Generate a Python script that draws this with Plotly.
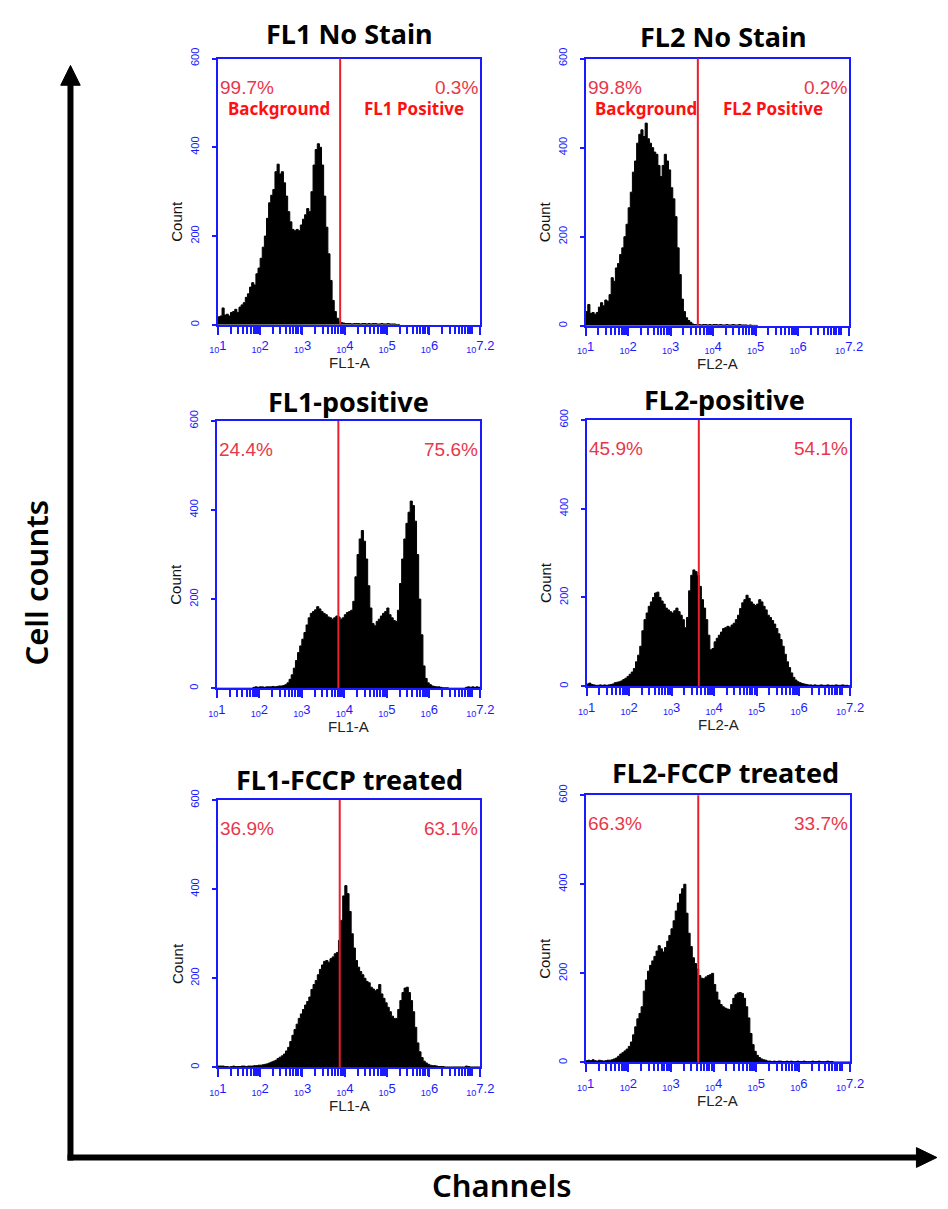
import numpy as np
import plotly.graph_objects as go

W, H = 948, 1209

# ---------------- data ----------------
bin_start_log = 1.0      # log10 of first bin edge
bin_width_log = 0.05     # bin width in decades

fl1_no_stain = [18, 20, 38, 22, 24, 20, 28, 30,
                35, 28, 40, 45, 50, 62,
                70, 85, 95, 90, 115, 128,
                150, 175, 200, 240, 275,
                292, 305, 345, 362, 340,
                345, 320, 290, 255, 232,
                215, 212, 215, 212, 225,
                238, 248, 262, 255, 300,
                360, 395, 408, 400, 360,
                290, 220, 160, 100, 55,
                30, 15, 8, 5, 4,
                3, 3, 3, 2, 3, 3, 3, 2, 3, 3, 2, 3, 2, 3, 3, 2, 2, 3, 2, 2, 3, 2, 2, 2, 1, 1]

fl2_no_stain = [32, 48, 28, 30, 26, 30, 42,
                52, 45, 58, 55, 70, 108, 100,
                130, 140, 160, 175, 200, 228,
                265, 300, 345, 370, 410,
                430, 440, 425, 455, 420,
                410, 400, 390, 385, 360,
                335, 360, 385, 370, 350,
                310, 285, 245, 175, 115, 60, 32, 18, 12, 8,
                4, 3, 3, 3, 2, 3, 3, 2, 3, 2, 3, 3, 2, 3, 2, 2, 3, 2, 2, 3, 2, 2, 3, 2, 2, 2, 1, 2, 1, 1, 1]

fl1_positive = [0, 0, 0, 0, 0, 0, 0, 0, 0, 0, 0, 0, 0, 0, 0, 0, 0,
                2, 3, 2, 3, 3, 2, 3, 3, 3, 4, 3, 4, 5, 5, 6, 8,
                12, 20, 30,
                45, 62, 80, 95,
                110, 125, 142, 158, 168,
                172, 176, 183, 178, 172,
                168, 165, 160, 158, 155,
                158, 162, 160, 155, 158,
                165, 170, 172, 175, 195, 250, 300, 335, 354, 330, 290, 230, 180, 145, 140,
                150, 155, 162, 168, 172, 180, 165, 158, 152, 150,
                175, 235, 290, 335, 370, 395, 420, 410, 375, 300, 200, 120, 50, 22, 12,
                8, 5, 4, 3, 3,
                2, 1, 1, 1, 0, 0, 0, 0, 0, 0, 0, 0, 2, 3, 2, 3, 2, 3, 2]

fl2_positive = [5, 7, 4, 3,
                2, 2, 3, 2, 3, 2, 3, 4, 5,
                8, 9, 10, 12, 15, 18, 22,
                27, 32, 40, 55, 70, 90, 125, 150, 165, 180, 190, 200, 210, 212, 200,
                192, 185, 176, 172, 168, 165, 170, 176, 168, 160, 150, 132, 155, 215, 250,
                262, 258, 250, 225, 195, 176, 150, 115, 82, 85,
                100, 108, 115, 122, 130,
                132, 135, 133, 138, 142,
                150, 160, 175, 188, 195,
                205, 198, 190, 185, 182,
                185, 195, 190, 180, 172,
                160, 155, 148, 140, 130,
                118, 105, 90, 72, 55,
                42, 30, 20, 14, 10,
                8, 6, 5, 4, 3,
                3, 2, 3, 2, 2, 3, 2, 2, 3, 2, 2, 2, 3, 2, 2, 3, 2, 2, 1]

fl1_fccp = [3, 3, 3, 2, 2, 1, 2, 3, 2, 2, 2, 3, 3, 2, 3, 3, 3,
            4, 4, 5, 5, 6, 7, 8,
            10, 12, 14, 16, 20, 23, 26, 30,
            37, 45, 58, 72, 85, 97, 110, 120,
            130, 140, 148, 158, 175, 186, 195, 208, 220, 230,
            238, 240, 236, 244, 248,
            255, 258, 285, 330, 385,
            408, 390, 350, 300, 268, 240, 225, 215, 208, 200,
            193, 190, 180, 176, 172, 175, 186, 165, 155, 145,
            135, 125, 115, 110, 110, 130, 150, 168, 178, 180,
            168, 150, 125, 90, 55, 35, 22, 14, 10, 7,
            5, 4, 4, 3, 2,
            2, 2, 1, 1, 1, 1, 1, 1, 1, 1, 1, 1, 3, 2, 1, 1, 1, 1, 1]

fl2_fccp = [4, 5, 4, 6, 4, 3, 5, 4, 3, 4, 5, 5, 6,
            8, 10, 14, 19, 22, 26, 30,
            36, 46, 62, 80, 98, 110, 125, 160, 185, 205,
            218, 228, 238, 250, 262, 255, 248, 258, 272, 285,
            300, 318, 340, 358, 378, 390, 400, 335, 290, 260,
            235, 222, 210, 195, 189, 188, 192, 195, 197, 200,
            175, 158, 140, 130, 125, 122, 120, 119, 130, 144,
            152, 156, 157, 155, 144, 125, 100, 65, 40, 25,
            16, 11, 8, 6, 5,
            3, 3, 2, 3, 2, 3, 3, 2, 2, 3, 2, 3, 2, 2, 3, 2, 2, 3, 2, 2,
            2, 3, 2, 2, 3, 2, 2, 2, 3, 2, 2, 1, 1, 1, 1, 1, 1, 1, 1]

panel_counts = [fl1_no_stain, fl2_no_stain, fl1_positive, fl2_positive, fl1_fccp, fl2_fccp]
panel_titles = ["FL1 No Stain", "FL2 No Stain", "FL1-positive", "FL2-positive",
                "FL1-FCCP treated", "FL2-FCCP treated"]
channel_labels = ["FL1-A", "FL2-A", "FL1-A", "FL2-A", "FL1-A", "FL2-A"]
gate_log = [3.89, 3.64, 3.86, 3.64, 3.88, 3.64]
left_pct = ["99.7%", "99.8%", "24.4%", "45.9%", "36.9%", "66.3%"]
right_pct = ["0.3%", "0.2%", "75.6%", "54.1%", "63.1%", "33.7%"]
gate_names = [("Background", "FL1 Positive"), ("Background", "FL2 Positive"),
              None, None, None, None]
x_tick_exponents = [1, 2, 3, 4, 5, 6, 7.2]
x_tick_labels = ["1", "2", "3", "4", "5", "6", "7.2"]
y_ticks = [0, 200, 400, 600]
y_tick_labels = ["0", "200", "400", "600"]

# ---------------- layout geometry (pixels) ----------------
boxes = [(214, 483, 48, 317), (591, 861, 48, 318),
         (213, 483, 414, 684), (592, 862, 413, 682),
         (214, 483, 797, 1067), (591, 862, 792, 1062)]
title_pos = [(349, 23), (732, 26), (348, 394), (733, 392), (349, 776), (734, 769)]
name_xfrac = [(0.033, 0.55), (0.026, 0.515)]

BLUE = "#1a1aff"
RED_PCT = "#e8374a"
RED = "#ff1010"
GATE = "#e8202e"


def px(x):
    return x / W


def py(y):
    return 1 - y / H


fig = go.Figure()
annotations = []
shapes = []

minor_vals = []
for n in range(1, 7):
    for k in range(2, 10):
        minor_vals.append(k * 10 ** n)
minor_vals.append(10 ** 7)

for i, counts in enumerate(panel_counts):
    sfx = "" if i == 0 else str(i + 1)
    xs = [10 ** (bin_start_log + bin_width_log * j) for j in range(len(counts) + 1)]
    ys = list(counts) + [counts[-1]]
    fig.add_trace(go.Scatter(
        x=xs, y=ys, mode="lines", line=dict(color="black", width=1, shape="hv"),
        fill="tozeroy", fillcolor="black", xaxis="x" + sfx, yaxis="y" + sfx,
        hoverinfo="skip", showlegend=False))

    l, r, t, b = boxes[i]
    fig.layout["xaxis" + sfx] = dict(
        domain=[px(l), px(r)], anchor="y" + sfx, type="log", range=[1, 7.2],
        tickmode="array", tickvals=[10 ** e for e in x_tick_exponents],
        ticktext=["<sub>10</sub>" + s for s in x_tick_labels],
        ticks="outside", ticklen=8, tickwidth=1.5, tickcolor=BLUE,
        tickfont=dict(family="Liberation Sans", size=13, color=BLUE),
        minor=dict(tickmode="array", tickvals=minor_vals, ticks="outside",
                   ticklen=7, tickwidth=1.5, tickcolor=BLUE, showgrid=False),
        showline=True, linecolor=BLUE, linewidth=2, mirror=True,
        showgrid=False, zeroline=False, fixedrange=True)
    fig.layout["yaxis" + sfx] = dict(
        domain=[py(b), py(t)], anchor="x" + sfx, range=[0, 600],
        tickmode="array", tickvals=y_ticks, ticktext=y_tick_labels,
        tickangle=-90, ticks="outside", ticklen=4, tickwidth=1.5, tickcolor=BLUE,
        ticklabelstandoff=8,
        tickfont=dict(family="Liberation Sans", size=11, color=BLUE),
        showline=True, linecolor=BLUE, linewidth=2, mirror=True,
        showgrid=False, zeroline=False, fixedrange=True)

    xd = "x" + sfx + " domain"
    yd = "y" + sfx + " domain"
    shapes.append(dict(type="line", xref="x" + sfx, yref=yd,
                       x0=10 ** gate_log[i], x1=10 ** gate_log[i], y0=0, y1=1,
                       line=dict(color=GATE, width=2)))
    annotations.append(dict(text=left_pct[i], xref=xd, yref=yd, x=0.0, y=0.893,
                            xanchor="left", yanchor="middle", showarrow=False, xshift=0,
                            font=dict(family="Liberation Sans", size=19, color=RED_PCT)))
    annotations.append(dict(text=right_pct[i], xref=xd, yref=yd, x=1.0, y=0.893,
                            xanchor="right", yanchor="middle", showarrow=False,
                            font=dict(family="Liberation Sans", size=19, color=RED_PCT)))
    if gate_names[i]:
        for name, xf in zip(gate_names[i], name_xfrac[i]):
            annotations.append(dict(text="<b>" + name + "</b>", xref=xd, yref=yd,
                                    x=xf, y=0.812, xanchor="left", yanchor="middle",
                                    showarrow=False,
                                    font=dict(family="Noto Sans", size=17, color=RED)))
    annotations.append(dict(text=channel_labels[i], xref=xd, yref=yd, x=0.5, y=0,
                            yshift=-38, xanchor="center", yanchor="middle", showarrow=False,
                            font=dict(family="Liberation Sans", size=15, color="#222222")))
    annotations.append(dict(text="Count", xref=xd, yref=yd, x=0, y=0.39, xshift=-41,
                            textangle=-90, xanchor="center", yanchor="middle",
                            showarrow=False,
                            font=dict(family="Liberation Sans", size=15, color="#111111")))
    tx, ty = title_pos[i]
    annotations.append(dict(text="<b>" + panel_titles[i] + "</b>", xref="paper",
                            yref="paper", x=px(tx), y=py(ty), xanchor="center",
                            yanchor="middle", showarrow=False,
                            font=dict(family="Noto Sans", size=27, color="black")))

# big axes arrows
shapes.append(dict(type="line", xref="paper", yref="paper", x0=px(63), x1=px(63),
                   y0=py(1161), y1=py(72), line=dict(color="black", width=6)))
shapes.append(dict(type="path", xref="paper", yref="paper",
                   path=f"M {px(53)},{py(75)} L {px(73)},{py(75)} L {px(63)},{py(55)} Z",
                   fillcolor="black", line=dict(color="black", width=1)))
shapes.append(dict(type="line", xref="paper", yref="paper", x0=px(60), x1=px(932),
                   y0=py(1158), y1=py(1158), line=dict(color="black", width=6)))
shapes.append(dict(type="path", xref="paper", yref="paper",
                   path=f"M {px(930)},{py(1148)} L {px(930)},{py(1168)} L {px(951)},{py(1158)} Z",
                   fillcolor="black", line=dict(color="black", width=1)))

annotations.append(dict(text="Cell counts", xref="paper", yref="paper", x=px(28), y=py(577),
                        textangle=-90, xanchor="center", yanchor="middle", showarrow=False,
                        font=dict(family="Noto Sans", size=31, color="black", weight=600)))
annotations.append(dict(text="Channels", xref="paper", yref="paper", x=px(505), y=0,
                        xanchor="center", yanchor="bottom", showarrow=False,
                        font=dict(family="Noto Sans", size=31, color="black", weight=600)))

fig.update_layout(width=W, height=H, margin=dict(l=0, r=0, t=0, b=0),
                  paper_bgcolor="white", plot_bgcolor="white",
                  annotations=annotations, shapes=shapes, showlegend=False)

fig.write_html("out.html")
